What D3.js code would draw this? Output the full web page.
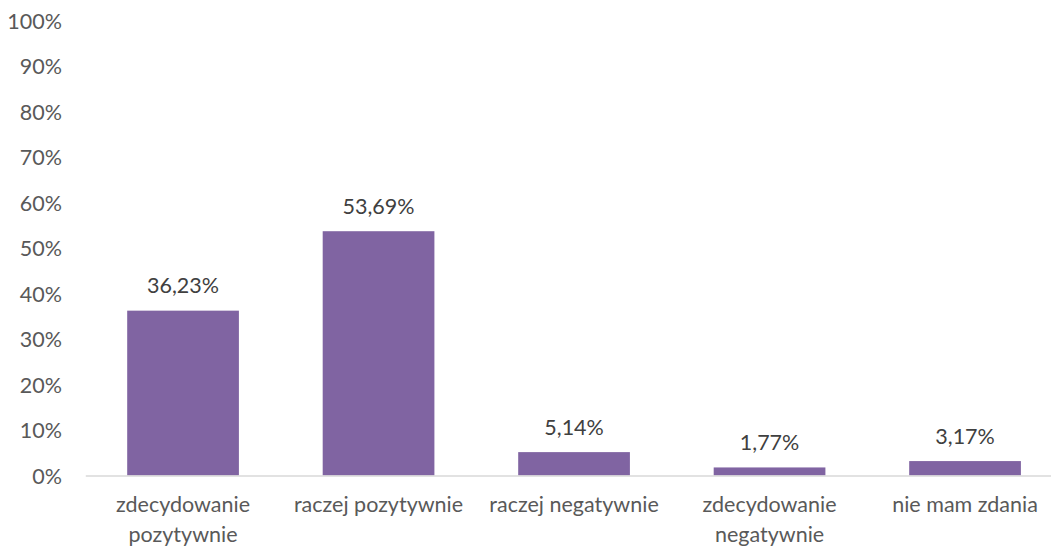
<!DOCTYPE html>
<html>
<head>
<meta charset="utf-8">
<script src="https://cdn.jsdelivr.net/npm/d3@7"></script>
<style>
  body { margin: 0; background: #fff; }
  svg { display: block; }
  text { font-family: Lato, "Open Sans", sans-serif; }
</style>
</head>
<body>
<svg id="chart" width="1051" height="547"></svg>
<script>
const categories = [
  ["zdecydowanie", "pozytywnie"],
  ["raczej pozytywnie"],
  ["raczej negatywnie"],
  ["zdecydowanie", "negatywnie"],
  ["nie mam zdania"]
];
const values = [36.23, 53.69, 5.14, 1.77, 3.17];
const valueLabels = ["36,23%", "53,69%", "5,14%", "1,77%", "3,17%"];
const yTicks = [0, 10, 20, 30, 40, 50, 60, 70, 80, 90, 100];

const svg = d3.select("#chart");
const fontSize = 21.5;

const x = d3.scaleBand()
  .domain(d3.range(categories.length))
  .range([85.3, 1062.8])
  .paddingInner(0.4286)
  .paddingOuter(0.2143);

const y = d3.scaleLinear().domain([0, 100]).range([475.5, 20.5]);

// y tick labels
const yAxis = d3.axisLeft(y).tickValues(yTicks).tickFormat(d => d + "%").tickSize(0).tickPadding(0);
const ya = svg.append("g").attr("transform", "translate(62,0)").call(yAxis);
ya.select(".domain").remove();
ya.selectAll("text")
  .attr("fill", "#595959")
  .style("font-size", fontSize + "px")
  .style("font-family", "Lato, sans-serif")
  .attr("dy", "0.35em");

// bars
svg.append("g").selectAll("rect")
  .data(values)
  .join("rect")
  .attr("x", (d, i) => x(i))
  .attr("width", x.bandwidth())
  .attr("y", d => y(d))
  .attr("height", d => y(0) - y(d))
  .attr("fill", "#8064A2");

// x axis line
const xAxis = d3.axisBottom(x).tickSize(0).tickFormat(() => "");
const xa = svg.append("g").attr("transform", `translate(0,${y(0)})`).call(xAxis);
xa.select(".domain").attr("stroke", "#D9D9D9").attr("stroke-width", 1.5);

// category labels
const cat = svg.append("g").selectAll("text")
  .data(categories)
  .join("text")
  .attr("text-anchor", "middle")
  .attr("fill", "#595959")
  .style("font-size", fontSize + "px");
cat.each(function(lines, i) {
  const t = d3.select(this);
  lines.forEach((ln, j) => {
    t.append("tspan")
      .attr("x", x(i) + x.bandwidth() / 2)
      .attr("y", 512 + j * 29.5)
      .text(ln);
  });
});

// value labels
svg.append("g").selectAll("text")
  .data(values)
  .join("text")
  .attr("x", (d, i) => x(i) + x.bandwidth() / 2)
  .attr("y", d => y(d) - 25)
  .attr("dy", "0.35em")
  .attr("text-anchor", "middle")
  .attr("fill", "#404040")
  .style("font-size", fontSize + "px")
  .text((d, i) => valueLabels[i]);
</script>
</body>
</html>
